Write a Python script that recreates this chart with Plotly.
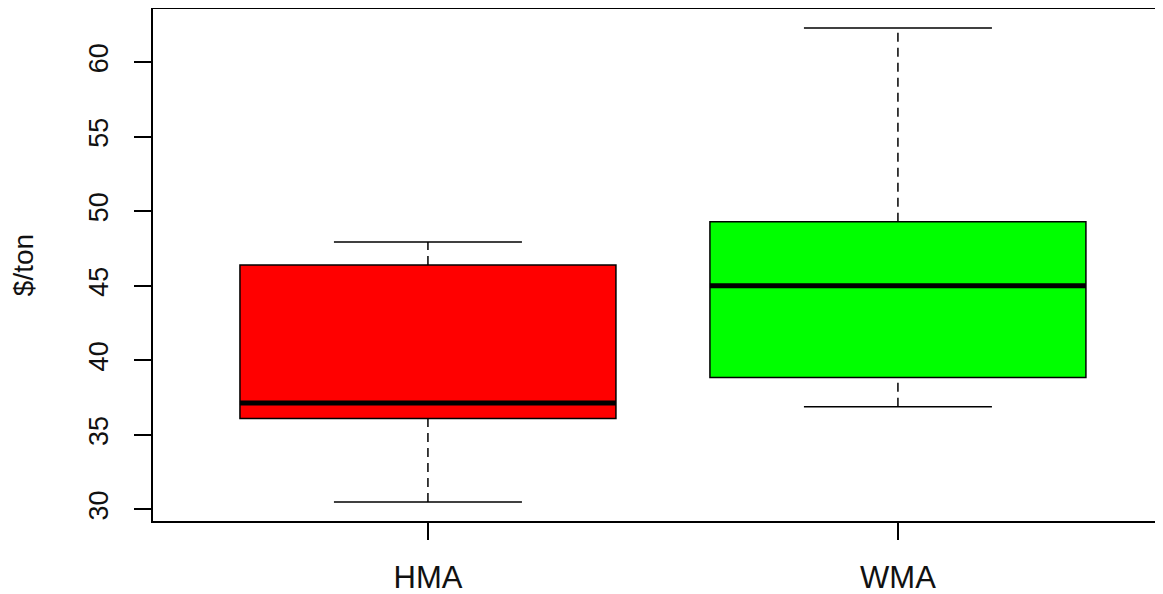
import plotly.graph_objects as go

categories = ["HMA", "WMA"]
positions = [1, 2]
lower_whisker = [30.5, 36.9]
q1 = [36.1, 38.85]
median = [37.15, 45.0]
q3 = [46.4, 49.3]
upper_whisker = [47.95, 62.3]
fill_colors = ["#FF0000", "#00FF00"]
y_ticks = [30, 35, 40, 45, 50, 55, 60]

BOX_W = 0.8
CAP_W = 0.4
FONT = "Liberation Sans, Arial, sans-serif"

fig = go.Figure()

for i, cat in enumerate(categories):
    x = positions[i]
    fig.add_trace(go.Box(
        x=[x], q1=[q1[i]], median=[median[i]], q3=[q3[i]],
        lowerfence=[q1[i]], upperfence=[q3[i]],
        width=BOX_W, fillcolor=fill_colors[i],
        line=dict(color="black", width=1.5),
        boxpoints=False, showlegend=False, hoverinfo="skip",
    ))
    # dashed whiskers
    for a, b in [(lower_whisker[i], q1[i]), (q3[i], upper_whisker[i])]:
        fig.add_trace(go.Scatter(
            x=[x, x], y=[a, b], mode="lines",
            line=dict(color="black", width=1.5, dash="9px,6px"),
            showlegend=False, hoverinfo="skip",
        ))
    # staples
    for v in [lower_whisker[i], upper_whisker[i]]:
        fig.add_trace(go.Scatter(
            x=[x - CAP_W / 2, x + CAP_W / 2], y=[v, v], mode="lines",
            line=dict(color="black", width=1.5),
            showlegend=False, hoverinfo="skip",
        ))
    # thick median
    fig.add_trace(go.Scatter(
        x=[x - BOX_W / 2, x + BOX_W / 2], y=[median[i], median[i]], mode="lines",
        line=dict(color="black", width=5),
        showlegend=False, hoverinfo="skip",
    ))

lo = min(lower_whisker)
hi = max(upper_whisker)
pad = 0.04 * (hi - lo)

fig.update_layout(
    width=1155, height=587,
    margin=dict(l=145, r=0, t=1, b=74),
    paper_bgcolor="white", plot_bgcolor="white",
    font=dict(family=FONT, size=27, color="#111111"),
    xaxis=dict(
        range=[0.415, 2.564], automargin=False,
        tickmode="array", tickvals=positions, ticktext=categories,
        showgrid=False, zeroline=False,
        showline=True, linecolor="black", linewidth=1.5, mirror=True,
        ticks="outside", ticklen=17, tickwidth=1.5, tickcolor="black",
        ticklabelstandoff=11,
        tickfont=dict(size=31, family=FONT, color="#111111"),
    ),
    yaxis=dict(
        range=[lo - pad, hi + pad],
        tickmode="array", tickvals=y_ticks,
        showgrid=False, zeroline=False,
        showline=True, linecolor="black", linewidth=1.5,
        ticks="outside", ticklen=17, tickwidth=1.5, tickcolor="black",
        tickangle=-90, ticklabelstandoff=15,
        tickfont=dict(size=27, family=FONT, color="#111111"),
        title=dict(text="$/ton", standoff=45,
                   font=dict(size=28, family=FONT, color="#111111")),
    ),
)

fig.write_html("out.html")
